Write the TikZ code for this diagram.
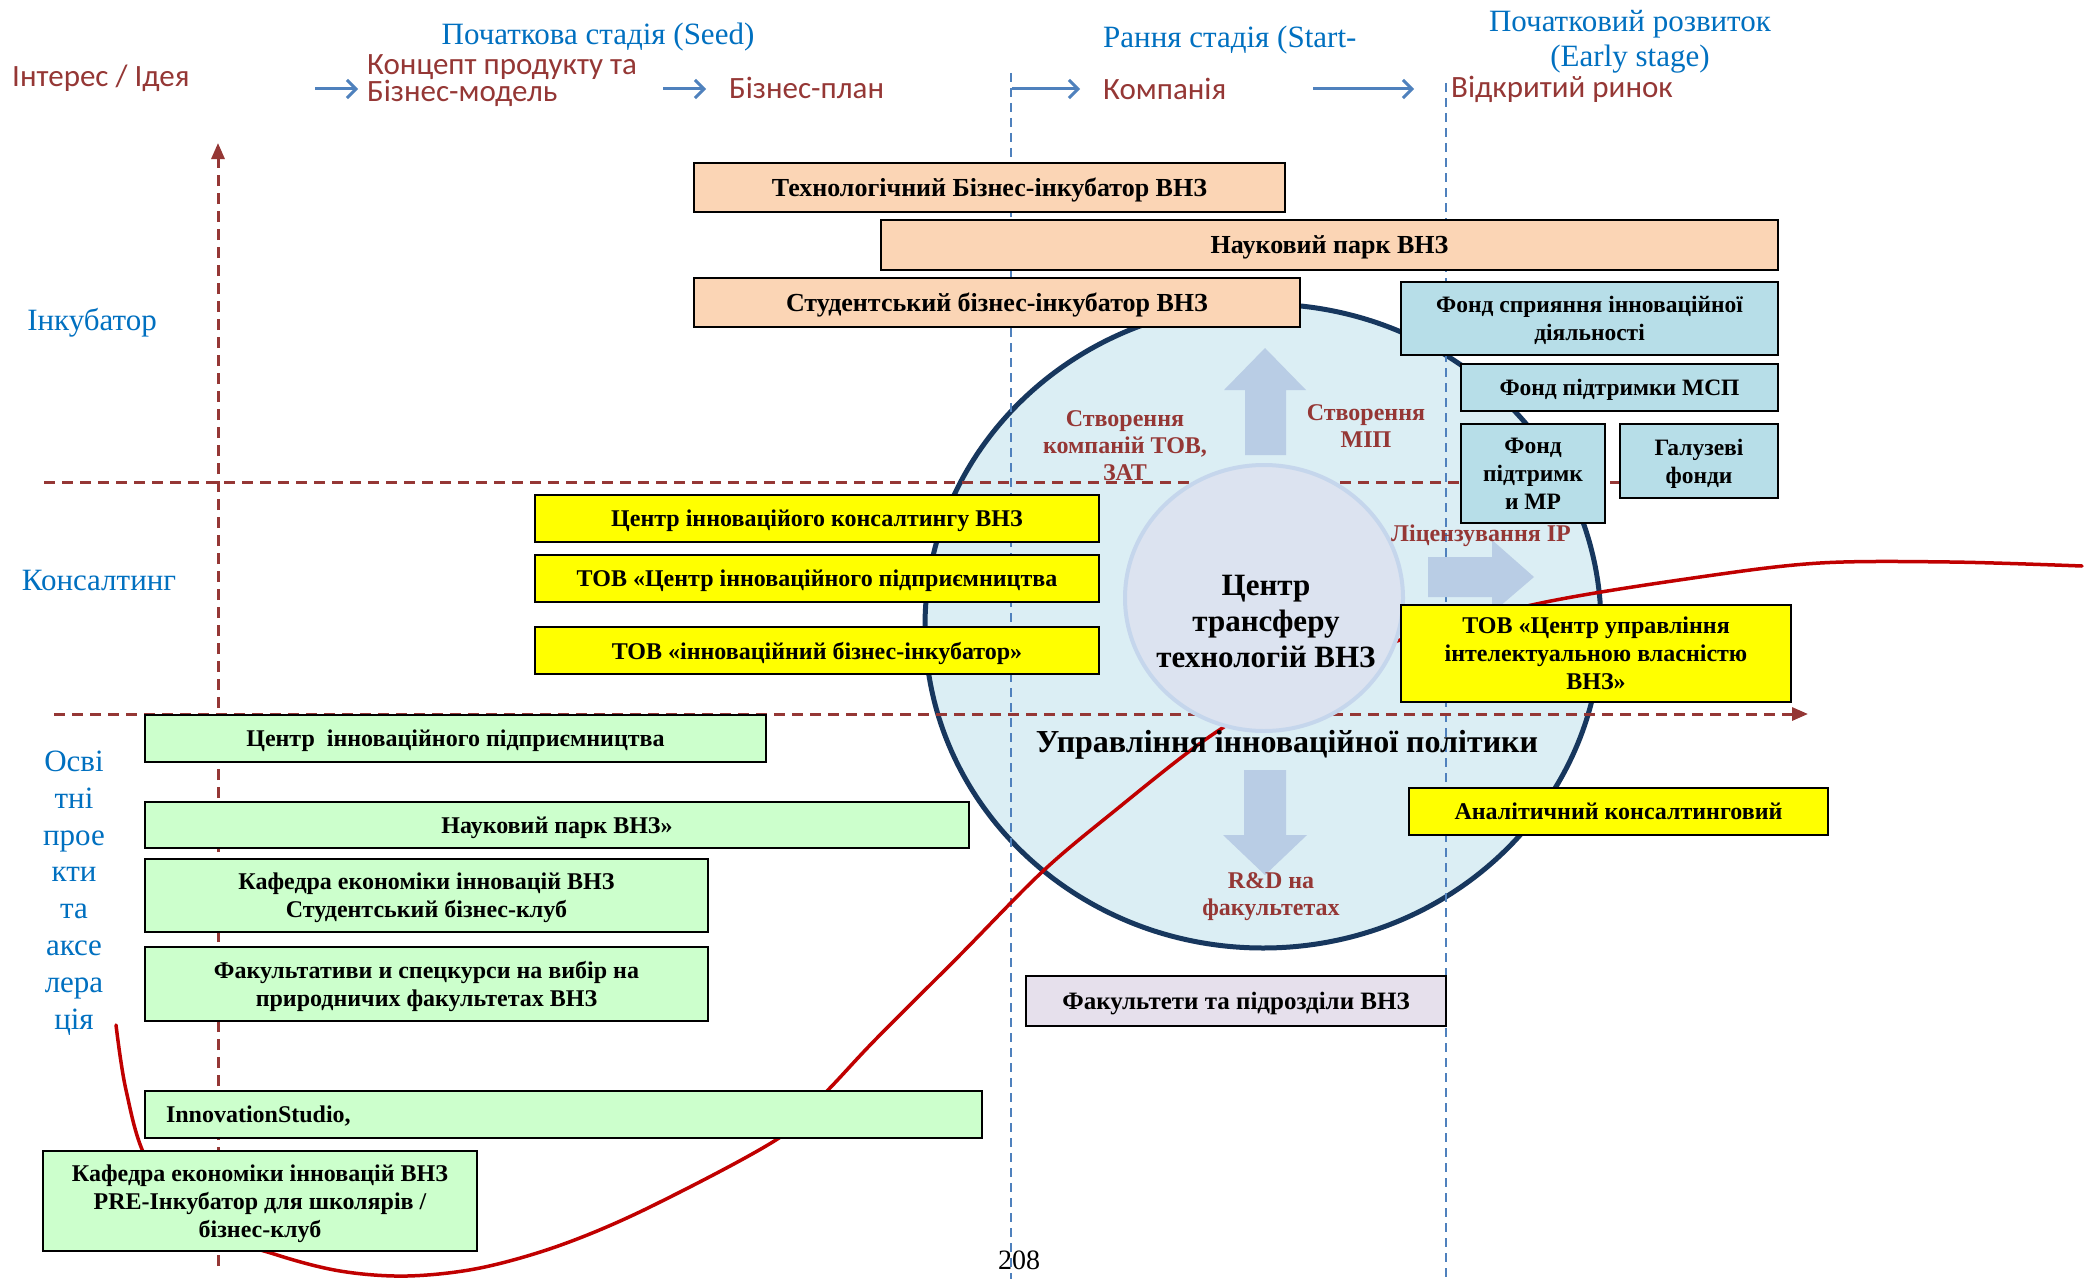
\documentclass[tikz,border=0pt]{standalone}
\usepackage{fontspec}
\setmainfont{Liberation Serif}
\newfontfamily\hsans{Carlito}
\usetikzlibrary{arrows.meta,shapes.geometric}
\definecolor{peachc}{HTML}{FBD5B5}
\definecolor{fondc}{HTML}{B7DEE8}
\definecolor{yelc}{HTML}{FFFF00}
\definecolor{greenc}{HTML}{CCFFCC}
\definecolor{lavc}{HTML}{E6E0EC}
\definecolor{ellc}{HTML}{DBEEF4}
\definecolor{navyc}{HTML}{17375E}
\definecolor{innerc}{HTML}{DCE3F0}
\definecolor{innerb}{HTML}{C5D6EC}
\definecolor{barrc}{HTML}{B9CDE5}
\definecolor{dred}{HTML}{953735}
\definecolor{tblue}{HTML}{0070C0}
\definecolor{ablue}{HTML}{4F81BD}
\definecolor{curvec}{HTML}{C00000}
\tikzset{
  box/.style={draw=black, line width=2.2pt, inner sep=2pt, align=center, text depth=0pt,
    font=\bfseries\fontsize{24}{28}\selectfont},
  peach/.style={box, fill=peachc, font=\bfseries\fontsize{26}{29}\selectfont},
  fond/.style={box, fill=fondc, font=\bfseries\fontsize{23.5}{28}\selectfont},
  yel/.style={box, fill=yelc},
  grn/.style={box, fill=greenc},
  lav/.style={box, fill=lavc, font=\bfseries\fontsize{25}{28}\selectfont},
  lbl/.style={text=tblue, font=\fontsize{31}{34}\selectfont, inner sep=0pt},
  stage/.style={text=tblue, font=\fontsize{31}{35}\selectfont, inner sep=0pt, align=center},
  hdr/.style={text=dred, font=\hsans\fontsize{31}{27}\selectfont, inner sep=0pt, align=left},
  harr/.style={draw=ablue, line width=3pt, -{Straight Barb[length=9pt,width=18pt,line width=3pt]}},
  bdash/.style={draw=ablue, line width=1.5pt, dash pattern=on 9pt off 6pt},
  rdash/.style={draw=dred, line width=3pt, dash pattern=on 11pt off 7pt},
  rlab/.style={text=dred, font=\bfseries\fontsize{24}{27}\selectfont, align=center, inner sep=0pt},
  barrow/.style={fill=barrc, draw=none}
}
\begin{document}
\begin{tikzpicture}[x=1pt,y=-1pt]
\useasboundingbox (0,0) rectangle (2093,1279);
\fill[white] (0,0) rectangle (2093,1279);

% big ellipse
\draw[fill=ellc, draw=navyc, line width=5pt] (1263,626) ellipse [x radius=338, y radius=322];

% blue dashed stage lines
\coordinate (bl1t) at (1011,73);
\coordinate (bl1b) at (1011,1279);
\coordinate (bl2t) at (1446,83);
\coordinate (bl2b) at (1446,1279);
\draw[bdash] (bl1t) -- (bl1b);
\draw[bdash] (bl2t) -- (bl2b);

% red dashed axes
\coordinate (vaxb) at (218,1266);
\coordinate (vaxt) at (218,143);
\draw[rdash, -{Triangle[length=16pt,width=13pt]}] (vaxb) -- (vaxt);
\coordinate (h1l) at (44,482);
\coordinate (h1r) at (1760,482);
\draw[rdash] (h1l) -- (h1r);
\coordinate (h2l) at (54,714);
\coordinate (h2r) at (1808,714);
\draw[rdash, -{Triangle[length=16pt,width=13pt]}] (h2l) -- (h2r);

% red curve
\draw[curvec, line width=3.5pt, line cap=round] plot[smooth, tension=0.55] coordinates {
 (116,1025) (126,1090) (147,1160) (200,1226) (274,1254) (340,1271) (407,1276)
 (480,1268) (561,1245) (650,1207) (779,1138) (828,1090) (875,1040)
 (960,955) (1042,872) (1112,813) (1209,737) (1300,683) (1400,640) (1541,603)
 (1700,577) (1820,563) (1950,562) (2082,566)};

% inner circle
\node[ellipse, minimum width=278, minimum height=266, fill=innerc, draw=innerb, line width=4pt] (ctt) at (1264,598) {};
\node[font=\bfseries\fontsize{31}{36}\selectfont, align=center, inner sep=0pt] (cttt) at (1266,621) {Центр\\трансферу\\технологій ВНЗ};

% block arrows
\fill[barrow] (1245,455) -- (1245,390) -- (1224,390) -- (1265,348) -- (1306,390) -- (1286,390) -- (1286,455) -- cycle;
\fill[barrow] (1428,557) -- (1492,557) -- (1492,540) -- (1534,577) -- (1492,613) -- (1492,597) -- (1428,597) -- cycle;
\fill[barrow] (1244,770) -- (1286,770) -- (1286,835) -- (1307,835) -- (1265,875) -- (1223,835) -- (1244,835) -- cycle;

% labels in circle
\node[rlab] (l1) at (1125,446) {Створення\\компаній ТОВ,\\ЗАТ};
\node[rlab] (l2) at (1366,426) {Створення\\МІП};
\node[rlab] (l3) at (1481,536) {Ліцензування IP};
\node[rlab] (l4) at (1271,897) {R\&D на\\факультетах};
\node[font=\bfseries\fontsize{32}{34}\selectfont, inner sep=0pt] (uip) at (1287,745) {Управління інноваційної політики};

% incubator boxes
\node[peach, minimum width=591, minimum height=49] (tbi) at (989.5,187.5) {Технологічний Бізнес-інкубатор ВНЗ};
\node[peach, minimum width=897, minimum height=50] (np) at (1329.5,245) {Науковий парк ВНЗ};
\node[peach, minimum width=606, minimum height=49] (sbi) at (997,302.5) {Студентський бізнес-інкубатор ВНЗ};

% funds
\node[fond, minimum width=377, minimum height=73] (fsid) at (1589.5,318.5) {Фонд сприяння інноваційної\\діяльності};
\node[fond, minimum width=317, minimum height=47] (fmsp) at (1619.5,387.5) {Фонд підтримки МСП};
\node[fond, minimum width=144, minimum height=99] (fmr) at (1533,473.5) {Фонд\\підтримк\\и МР};
\node[fond, minimum width=158, minimum height=74] (gf) at (1699,461) {Галузеві\\фонди};

% consulting
\node[yel, minimum width=564, minimum height=47] (cik) at (817,518.5) {Центр інноваційого консалтингу ВНЗ};
\node[yel, minimum width=564, minimum height=47] (cip) at (817,578.5) {ТОВ «Центр інноваційного підприємництва};
\node[yel, minimum width=564, minimum height=47] (ibi) at (817,650.5) {ТОВ «інноваційний бізнес-інкубатор»};
\node[yel, minimum width=390, minimum height=97] (cuiv) at (1596,653.5) {ТОВ «Центр управління\\інтелектуальною власністю\\ВНЗ»};
\node[yel, minimum width=419, minimum height=47] (akc) at (1618.5,811.5) {Аналітичний консалтинговий};

% education
\node[grn, minimum width=621, minimum height=47] (g1) at (455.5,738.5) {Центр\ \ інноваційного підприємництва};
\node[grn, minimum width=824, minimum height=46] (g2) at (557,825) {Науковий парк ВНЗ»};
\node[grn, minimum width=563, minimum height=73] (g3) at (426.5,895.5) {Кафедра економіки інновацій ВНЗ\\Студентський бізнес-клуб};
\node[grn, minimum width=563, minimum height=74] (g4) at (426.5,984) {Факультативи и спецкурси на вибір на\\природничих факультетах ВНЗ};
\node[grn, minimum height=47, text width=795pt, inner xsep=21pt, align=left] (g5) at (563.5,1114.5) {InnovationStudio,};
\node[grn, minimum width=434, minimum height=100] (g6) at (260,1201) {Кафедра економіки інновацій ВНЗ\\PRE-Інкубатор для школярів /\\бізнес-клуб};

\node[lav, minimum width=420, minimum height=50] (fak) at (1236,1001) {Факультети та підрозділи ВНЗ};

% left labels
\node[lbl] (ink) at (92,323) {Інкубатор};
\node[lbl] (kons) at (99,580) {Консалтинг};
\node[lbl, align=center, font=\fontsize{31}{36.8}\selectfont] (osv) at (74,893) {Осві\\тні\\прое\\кти\\та\\аксе\\лера\\ція};

% header
\node[stage] (seed) at (598,37) {Початкова стадія (Seed)};
\node[stage, anchor=west] (start) at (1103,40) {Рання стадія (Start-};
\node[stage] (early) at (1630,42) {Початковий розвиток\\(Early stage)};
\node[hdr, anchor=west] (idea) at (12,78) {Інтерес / Ідея};
\node[hdr, anchor=west] (conc) at (367,81) {Концепт продукту та\\Бізнес-модель};
\node[hdr, anchor=west] (bplan) at (729,88) {Бізнес-план};
\node[hdr, anchor=west] (comp) at (1103,89) {Компанія};
\node[hdr, anchor=west] (mark) at (1451,89) {Відкритий ринок};
\coordinate (a1s) at (315,89); \coordinate (a1e) at (358,89);
\coordinate (a2s) at (663,89); \coordinate (a2e) at (706,89);
\coordinate (a3s) at (1012,89); \coordinate (a3e) at (1080,89);
\coordinate (a4s) at (1313,89); \coordinate (a4e) at (1414,89);
\draw[harr] (a1s) -- (a1e);
\draw[harr] (a2s) -- (a2e);
\draw[harr] (a3s) -- (a3e);
\draw[harr] (a4s) -- (a4e);

\node[font=\fontsize{28}{30}\selectfont, inner sep=0pt] (page) at (1019,1260) {208};
\end{tikzpicture}
\end{document}
